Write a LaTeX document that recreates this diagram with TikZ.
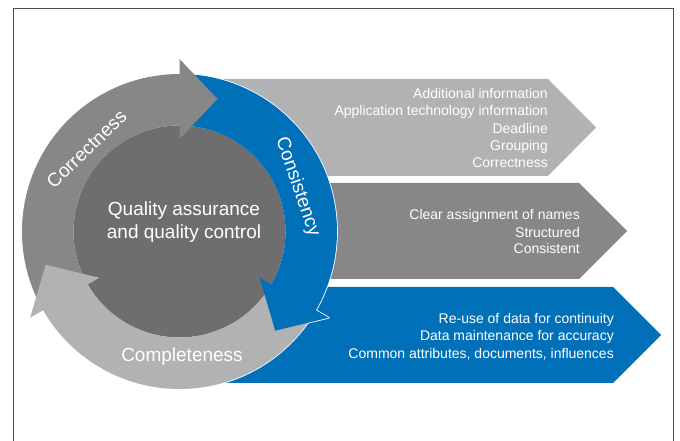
\documentclass[tikz,border=0pt]{standalone}
\usepackage{fontspec}
\setmainfont{Liberation Sans}
\usetikzlibrary{calc}
\definecolor{lgray}{HTML}{B1B2B4}
\definecolor{mgray}{HTML}{878787}
\definecolor{dgray}{HTML}{6E6E6E}
\definecolor{qblue}{HTML}{0070B8}
\definecolor{framec}{HTML}{4D4D4D}
% ring segment from angle #2 clockwise to angle #3 (extended 2 degrees under its own head)
\newcommand\qaBody[3]{%
  \path[#1] ($(C)+(#2:157.5)$) arc[start angle=#2, end angle=#3-2, radius=157.5]
    -- ($(C)+(#3-2:106)$) arc[start angle=#3-2, end angle=#2, radius=106] -- cycle;}
% arrow head whose base lies on the radius at angle #2
\newcommand\qaHead[2]{%
  \path[#1] ($(C)+(#2:92.5)$) -- ($(C)+(#2:172.5)$)
    -- ($(C)+(#2:132.5)+(#2-90:38)$) -- cycle;}
\begin{document}
\begin{tikzpicture}[x=1pt,y=1pt,
  boxtext/.style={anchor=base east, inner sep=0pt, text=white, font=\fontsize{14}{17}\selectfont},
  ringtext/.style={inner sep=0pt, text=white, font=\fontsize{19}{23}\selectfont},
  halo/.style={fill=white, draw=white, line width=1.6pt, line join=round}]
\useasboundingbox (0,0) rectangle (680,441);
\coordinate (C) at (179.5,209.5);
% frame
\draw[framec, line width=0.9pt] (13,0) -- (13,433) -- (673,433) -- (673,0);
% chevron boxes
\fill[lgray] (180,362) -- (548,362) -- (596,313.5) -- (548,265) -- (180,265) -- cycle;
\fill[mgray] (180,258) -- (579,258) -- (627,210) -- (579,162) -- (180,162) -- cycle;
\fill[qblue] (180,154) -- (613,154) -- (661,106) -- (613,58) -- (180,58) -- cycle;
% white outline of the cycle
\path[halo] (C) circle[radius=157.5];
\qaHead{halo}{90}
\qaHead{halo}{-30}
\qaHead{halo}{-150}
% inner disc
\fill[dgray] (C) circle[radius=106];
% ring bodies
\qaBody{fill=lgray}{-30}{-150}
\qaBody{fill=qblue}{90}{-30}
\qaBody{fill=mgray}{210}{90}
% arrow heads
\qaHead{fill=mgray}{90}
\qaHead{fill=qblue}{-30}
\qaHead{fill=lgray}{-150}
% ring labels
\node[ringtext, rotate=44] (corr) at (86.5,292) {Correctness};
\node[ringtext, rotate=-71] (cons) at (297.5,254.5) {Consistency};
\node[ringtext, anchor=base] (compl) at (182,79) {Completeness};
\node[ringtext, align=center] (qa) at (184,219) {Quality assurance\\and quality control};
% box texts
\node[boxtext] (a1) at (548,342.7) {Additional information};
\node[boxtext] (a2) at (548,325.3) {Application technology information};
\node[boxtext] (a3) at (548,307.7) {Deadline};
\node[boxtext] (a4) at (548,290.5) {Grouping};
\node[boxtext] (a5) at (548,273.3) {Correctness};
\node[boxtext] (b1) at (580,221) {Clear assignment of names};
\node[boxtext] (b2) at (580,203.7) {Structured};
\node[boxtext] (b3) at (580,187) {Consistent};
\node[boxtext] (c1) at (614,117.7) {Re-use of data for continuity};
\node[boxtext] (c2) at (614,100.3) {Data maintenance for accuracy};
\node[boxtext] (c3) at (614,82.7) {Common attributes, documents, influences};
\end{tikzpicture}
\end{document}
